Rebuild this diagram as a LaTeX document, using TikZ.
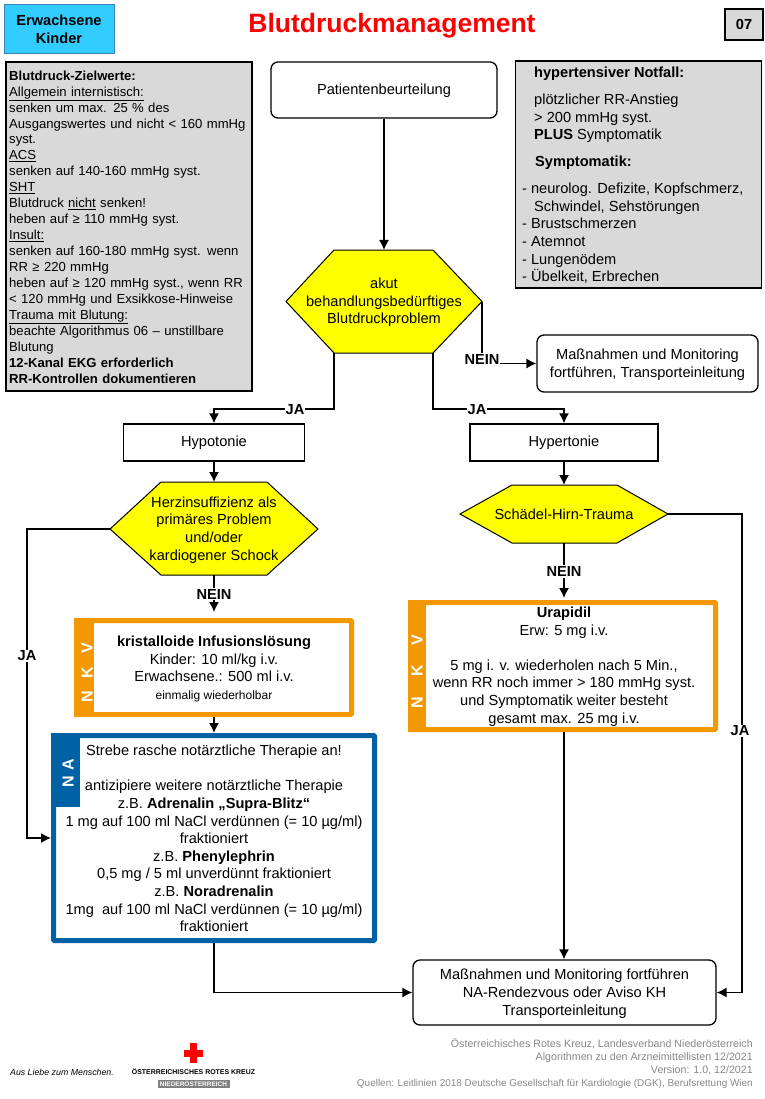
\documentclass[tikz,border=0pt]{standalone}
\usepackage{fontspec}
\setmainfont{Liberation Sans}
\usetikzlibrary{arrows.meta}
\definecolor{nkvorange}{RGB}{243,152,0}
\definecolor{nablue}{RGB}{0,98,165}
\definecolor{boxgray}{RGB}{217,217,217}
\definecolor{footgray}{RGB}{135,135,135}
\definecolor{hexyellow}{RGB}{255,255,0}
\newcommand{\ftxt}{\fontsize{14.6}{17.6}\selectfont}
\newcommand{\dropline}{\rule{0pt}{13pt}}
\begin{document}
\begin{tikzpicture}[x=1pt,y=-1pt]
    \tikzset{infobox/.style = {draw=black,line width=1.4pt,fill=boxgray}}
    \tikzset{roundbox/.style = {draw=black,line width=1.3pt,rounded corners=7pt,fill=white}}
    \tikzset{plainbox/.style = {draw=black,line width=1.3pt,fill=white}}
    \tikzset{hexbox/.style = {draw=black,line width=1pt,fill=hexyellow}}
    \tikzset{txt/.style = {align=center,font=\ftxt,inner sep=0pt}}
    \tikzset{lefttxt/.style = {align=left,font=\ftxt,inner sep=0pt,anchor=north west}}
    \tikzset{answer/.style = {fill=white,inner sep=1pt,font=\fontsize{14.6}{16}\selectfont\bfseries}}
    \tikzset{flow/.style = {draw=black,line width=1.3pt,-{Latex[length=10pt,width=10pt]}}}
    \tikzset{tablabel/.style = {text=white,rotate=90,font=\fontsize{16}{17}\selectfont\bfseries,inner sep=0pt}}
    \useasboundingbox (0,0) rectangle (764,1099);
    % header
    \node[draw={rgb,255:red,60;green,130;blue,190},line width=1pt,fill={rgb,255:red,51;green,204;blue,255},minimum width=110pt,minimum height=49pt,inner sep=0pt,align=center,font=\ftxt\bfseries] (group) at (59,29.5) {Erwachsene\\Kinder};
    \node[text=red,font=\fontsize{26.5}{28}\selectfont\bfseries,inner sep=0pt] (title) at (392,26) {Blutdruckmanagement};
    \node[infobox,minimum width=38pt,minimum height=31pt,inner sep=0pt,font=\ftxt\bfseries] (nr) at (744,24.5) {07};
    % grey boxes
    \node[infobox,minimum width=246pt,minimum height=329pt,inner sep=0pt] (ziel) at (129,226.5) {};
    \node[lefttxt,text width=242pt,font=\fontsize{13.1}{15.95}\selectfont] (zieltxt) at (9,70.5) {\textbf{Blutdruck-Zielwerte:}\\
        \underline{Allgemein internistisch:}\\
        senken um max. 25 \% des\\
        Ausgangswertes und nicht < 160 mmHg\\
        syst.\\
        \underline{ACS}\\
        senken auf 140-160 mmHg syst.\\
        \underline{SHT}\\
        Blutdruck \underline{nicht} senken!\\
        heben auf ≥ 110 mmHg syst.\\
        \underline{Insult:}\\
        senken auf 160-180 mmHg syst. wenn\\
        RR ≥ 220 mmHg\\
        heben auf ≥ 120 mmHg syst., wenn RR\\
        < 120 mmHg und Exsikkose-Hinweise\\
        \underline{Trauma mit Blutung:}\\
        beachte Algorithmus 06 – unstillbare\\
        Blutung\\
        \textbf{12-Kanal EKG erforderlich}\\
        \textbf{RR-Kontrollen dokumentieren}};
    \node[infobox,minimum width=246pt,minimum height=227pt,inner sep=0pt] (notfall) at (638.5,174.5) {};
    \node[lefttxt] (notfalla) at (534,67) {\textbf{hypertensiver Notfall:}};
    \node[lefttxt] (notfallb) at (534,94) {plötzlicher RR-Anstieg\\> 200 mmHg syst.\\\textbf{PLUS} Symptomatik};
    \node[lefttxt] (notfallc) at (535,156) {\textbf{Symptomatik:}};
    \node[lefttxt] (notfalld) at (522,183) {- neurolog. Defizite, Kopfschmerz,\\\hspace*{12pt}Schwindel, Sehstörungen\\- Brustschmerzen\\- Atemnot\\- Lungenödem\\- Übelkeit, Erbrechen};
    % flow boxes
    \node[roundbox,minimum width=226pt,minimum height=56pt,txt] (start) at (384,90) {\dropline Patientenbeurteilung};
    \draw[hexbox] (286,301.5) -- (334,250) -- (433,250) -- (482,301.5) -- (433,353) -- (334,353) -- cycle;
    \coordinate (hexatop) at (384,250);
    \coordinate (hexbl) at (334,353);
    \coordinate (hexbr) at (433,353);
    \coordinate (hexr) at (482,301.5);
    \node[txt] (hexa) at (384,302.5) {akut\\behandlungsbedürftiges\\Blutdruckproblem};
    \node[roundbox,minimum width=221pt,minimum height=57pt,txt] (weiter) at (647.5,363.5) {\dropline Maßnahmen und Monitoring\\fortführen, Transporteinleitung};
    \node[plainbox,minimum width=181pt,minimum height=37pt,txt] (hypo) at (214,442.5) {Hypotonie};
    \node[plainbox,minimum width=188pt,minimum height=37pt,txt] (hyper) at (564,442.5) {Hypertonie};
    \draw[hexbox] (110,529) -- (161,482) -- (267,482) -- (318,529) -- (267,575) -- (161,575) -- cycle;
    \coordinate (hexbtop) at (214,482);
    \coordinate (hexbbot) at (214,575);
    \coordinate (hexbl2) at (110,529);
    \node[txt] (hexb) at (214,530) {Herzinsuffizienz als\\primäres Problem\\und/oder\\kardiogener Schock};
    \draw[hexbox] (460,514) -- (512,485) -- (617,485) -- (668,514) -- (617,543) -- (512,543) -- cycle;
    \coordinate (hexctop) at (564,485);
    \coordinate (hexcbot) at (564,543);
    \coordinate (hexcr) at (668,514);
    \node[txt] (hexc) at (564,514) {Schädel-Hirn-Trauma};
    % NKV left
    \node[draw=nkvorange,line width=5pt,fill=white,rounded corners=1pt,minimum width=275pt,minimum height=94pt,inner sep=0pt] (nkva) at (214,667.5) {};
    \fill[nkvorange] (74,618) rectangle (94,717);
    \node[tablabel] (nkvatab) at (87,673) {N\hspace{13pt}K\hspace{13pt}V};
    \node[txt] (nkvatxt) at (214,669) {\textbf{kristalloide Infusionslösung}\\Kinder: 10 ml/kg i.v.\\Erwachsene.: 500 ml i.v.\\{\fontsize{12}{17.6}\selectfont einmalig wiederholbar}};
    % NA
    \node[draw=nablue,line width=5pt,fill=white,rounded corners=1pt,minimum width=321pt,minimum height=205pt,inner sep=0pt] (na) at (214,838) {};
    \fill[nablue] (51,733) rectangle (80,807);
    \node[tablabel] (natab) at (68,773) {N\hspace{6pt}A};
    \node[txt] (natxt) at (214,838.5) {Strebe rasche notärztliche Therapie an!\\[17.6pt]antizipiere weitere notärztliche Therapie\\z.B. \textbf{Adrenalin „Supra-Blitz“}\\1 mg auf 100 ml NaCl verdünnen (= 10 µg/ml)\\fraktioniert\\z.B. \textbf{Phenylephrin}\\0,5 mg / 5 ml unverdünnt fraktioniert\\z.B. \textbf{Noradrenalin}\\1mg\ \ auf 100 ml NaCl verdünnen (= 10 µg/ml)\\fraktioniert};
    % NKV right
    \node[draw=nkvorange,line width=5pt,fill=white,rounded corners=1pt,minimum width=305pt,minimum height=127pt,inner sep=0pt] (nkvb) at (563,666) {};
    \fill[nkvorange] (408,600) rectangle (426,732);
    \node[tablabel] (nkvbtab) at (417,671.5) {N\hspace{20pt}K\hspace{20pt}V};
    \node[txt] (nkvbtxt) at (564,666.5) {\textbf{Urapidil}\\Erw: 5 mg i.v.\\[17.6pt]5 mg i. v. wiederholen nach 5 Min.,\\wenn RR noch immer > 180 mmHg syst.\\und Symptomatik weiter besteht\\gesamt max. 25 mg i.v.};
    \node[roundbox,minimum width=303pt,minimum height=65pt,txt] (ende) at (564.5,992.5) {\dropline Maßnahmen und Monitoring fortführen\\NA-Rendezvous oder Aviso KH\\Transporteinleitung};
    % connectors
    \draw[flow] (start) -- (hexatop);
    \draw[flow] (hexr) |- (weiter.west);
    \draw[flow] (hexbl) -- (334,409) -| (hypo.north);
    \draw[flow] (hexbr) -- (433,409) -| (hyper.north);
    \draw[flow] (hypo) -- (hexbtop);
    \draw[flow] (hyper) -- (hexctop);
    \draw[flow] (hexbbot) -- (214,612);
    \draw[flow] (hexcbot) -- (564,598);
    \draw[flow] (nkva.south) -- (na.north);
    \draw[flow] (hexbl2) -- (27,529) |- (na.west);
    \draw[flow] (hexcr) -- (742,514) |- (ende.east);
    \draw[flow] (na.south) |- (ende.west);
    \draw[flow] (564,732) -- (ende.north -| 564,0);
    % answers
    \node[answer] (neina) at (482,359.5) {NEIN};
    \node[answer] (jaa) at (295,409.5) {JA};
    \node[answer] (jab) at (477,409.5) {JA};
    \node[answer] (neinb) at (214,594) {NEIN};
    \node[answer] (neinc) at (564,571.5) {NEIN};
    \node[answer] (jac) at (27,656) {JA};
    \node[answer] (jad) at (740,731) {JA};
    % footer
    \node[anchor=north east,align=right,text=footgray,inner sep=0pt,font=\fontsize{10.67}{13}\selectfont] (foot) at (753,1038.5) {Österreichisches Rotes Kreuz, Landesverband Niederösterreich\\Algorithmen zu den Arzneimittellisten 12/2021\\Version: 1.0, 12/2021\\{\fontsize{9.95}{13}\selectfont Quellen: Leitlinien 2018 Deutsche Gesellschaft für Kardiologie (DGK), Berufsrettung Wien}};
    \fill[red] (190,1043) rectangle (197,1063);
    \fill[red] (184,1049.5) rectangle (203,1056.5);
    \node[inner sep=0pt,font=\fontsize{8.8}{9}\selectfont\itshape] (motto) at (62,1072) {Aus Liebe zum Menschen.};
    \node[inner sep=0pt,font=\fontsize{6.95}{9}\selectfont\bfseries] (orkname) at (193.5,1072) {ÖSTERREICHISCHES ROTES KREUZ};
    \node[fill=gray,text=white,inner sep=0pt,minimum width=72pt,minimum height=8.5pt,font=\fontsize{6.5}{7}\selectfont\bfseries] (orkland) at (193.5,1084) {NIEDERÖSTERREICH};
\end{tikzpicture}
\end{document}
